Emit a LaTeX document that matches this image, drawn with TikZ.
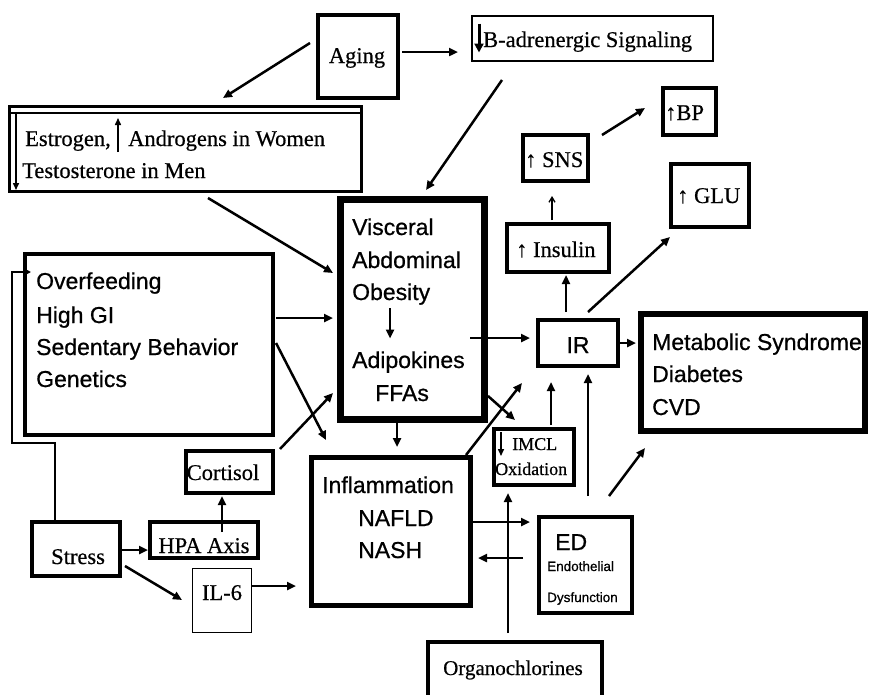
\documentclass[tikz,border=0pt]{standalone}
\usepackage{fontspec}
\setmainfont{Liberation Serif}[FakeBold=0.5]
\newfontfamily\sansf{Liberation Sans}[FakeBold=0.7]
\usetikzlibrary{arrows.meta,calc,fit}
\tikzset{
  bx/.style={draw, line width=#1, inner sep=0pt, outer sep=0pt},
  arr/.style={line width=2.5pt, -{Triangle[length=9pt,width=8pt]}},
  thinarr/.style={line width=1.5pt, -{Triangle[length=7pt,width=6pt]}},
  serif/.style={font=\fontsize{22.5}{27}\selectfont, inner sep=0pt},
  sserif/.style={font=\fontsize{18}{22}\selectfont, inner sep=0pt},
  sans/.style={font=\sansf\fontsize{23}{28}\selectfont, inner sep=0pt},
  tsans/.style={font=\sansf\fontsize{13.5}{16}\selectfont, inner sep=0pt},
}
\begin{document}
\begin{tikzpicture}[x=1pt,y=-1pt]
\useasboundingbox[fill=white] (0,0) rectangle (870,694);
\clip (0,0) rectangle (870,694);
% boxes
\node[bx=4pt, fit={(318,15)(398,98)}] (Aging) {};
\node[bx=2pt, fit={(472,16)(713,61)}] (Badr) {};
\node[bx=3pt, fit={(9.5,106.5)(361.5,191.5)}] (Estr) {};
\node[bx=7pt, fit={(340.5,199.5)(484.5,419.5)}] (Visc) {};
\node[bx=4pt, fit={(25,254)(273,435)}] (Over) {};
\node[bx=4pt, fit={(32,522)(120,576)}] (Stress) {};
\node[bx=4pt, fit={(150,522)(258,558)}] (HPA) {};
\node[bx=3.5pt, fit={(186,451)(273,493)}] (Cort) {};
\node[bx=1.5pt, fit={(192.5,568.5)(251.5,632.5)}] (IL6) {};
\node[bx=5pt, fit={(311.5,457.5)(470.5,605.5)}] (Infl) {};
\node[bx=4pt, fit={(538,320)(618,366)}] (IR) {};
\node[bx=6pt, fit={(641,314)(865,431)}] (MetS) {};
\node[bx=4pt, fit={(507,224)(609,272)}] (Ins) {};
\node[bx=3.5pt, fit={(523,135)(588,181)}] (SNS) {};
\node[bx=4pt, fit={(663,88)(716,135)}] (BP) {};
\node[bx=4pt, fit={(671,164)(749,227)}] (GLU) {};
\node[bx=3.5pt, fit={(494,429)(574,485)}] (IMCL) {};
\node[bx=4pt, fit={(539,517)(632,613)}] (ED) {};
\node[bx=4pt, fit={(428,642)(602,710)}] (Org) {};
% double top line of estrogen box
\draw[line width=1.5pt] ($(Estr.north west)+(0,6.5)$) -- ($(Estr.north east)+(0,6.5)$);
% texts
\node[serif, anchor=base] (tAging) at (357,63) {Aging};
\node[serif, anchor=base west] (tBadr) at (483,47) {B-adrenergic Signaling};
\node[serif, anchor=base west] (tEs1) at (25,146) {Estrogen,};
\node[serif, anchor=base west] (tEs2) at (128,146) {Androgens in Women};
\node[serif, anchor=base west] (tEs3) at (22,178) {Testosterone in Men};
\node[sans, anchor=base west] (tV1) at (352,235) {Visceral};
\node[sans, anchor=base west] (tV2) at (352,268) {Abdominal};
\node[sans, anchor=base west] (tV3) at (352,300) {Obesity};
\node[sans, anchor=base west] (tV4) at (352,368) {Adipokines};
\node[sans, anchor=base west] (tV5) at (375,401) {FFAs};
\node[sans, anchor=base west] (tO1) at (36,289) {Overfeeding};
\node[sans, anchor=base west] (tO2) at (36,323) {High GI};
\node[sans, anchor=base west] (tO3) at (36,355) {Sedentary Behavior};
\node[sans, anchor=base west] (tO4) at (36,387) {Genetics};
\node[sans, anchor=base west] (tM1) at (652,350) {Metabolic Syndrome};
\node[sans, anchor=base west] (tM2) at (652,382) {Diabetes};
\node[sans, anchor=base west] (tM3) at (652,415) {CVD};
\node[sans, anchor=base] (tIR) at (578,353) {IR};
\node[sans, anchor=base west] (tI1) at (322,493) {Inflammation};
\node[sans, anchor=base west] (tI2) at (358,526) {NAFLD};
\node[sans, anchor=base west] (tI3) at (358,558) {NASH};
\node[serif, anchor=base west] (tSt) at (51,564) {Stress};
\node[serif, anchor=base] (tHPA) at (204,553) {HPA Axis};
\node[serif, anchor=base] (tCo) at (223,480) {Cortisol};
\node[serif, anchor=base] (tIL) at (222,600) {IL-6};
\node[serif, anchor=base west] (tSNS) at (525,167) {↑ SNS};
\node[serif, anchor=base west] (tBP) at (665,120) {↑BP};
\node[serif, anchor=base west] (tGLU) at (677,203) {↑ GLU};
\node[serif, anchor=base west] (tIns) at (516,257) {↑ Insulin};
\node[sserif, anchor=base west] (tIM1) at (512,450) {IMCL};
\node[sserif, anchor=base west] (tIM2) at (495,475) {Oxidation};
\node[sans, anchor=base west] (tED) at (555,550) {ED};
\node[tsans, anchor=base west] (tED2) at (547,571) {Endothelial};
\node[tsans, anchor=base west] (tED3) at (547,602) {Dysfunction};
\node[font=\fontsize{21}{25}\selectfont, inner sep=0pt, anchor=base west] (tOrg) at (443,675) {Organochlorines};
% in-box arrows
\draw[thinarr] ($(Estr.west)+(6.5,-36)$) -- ($(Estr.west)+(6.5,41)$);
\draw[thinarr] ($(Estr.west)+(108.5,3)$) -- ($(Estr.west)+(108.5,-31)$);
\draw[line width=3pt, -{Triangle[length=9pt,width=9pt]}] ($(Badr.west)+(7,-15)$) -- ($(Badr.west)+(7,14)$);
\draw[arr] ($(Visc.center)+(-22.5,-1.5)$) -- ($(Visc.center)+(-22.5,29)$);
\draw[thinarr] ($(IMCL.north west)+(7,3)$) -- ($(IMCL.north west)+(7,27)$);
% connectors
\draw[arr] ($(Aging.west)+(-8,-13.5)$) -- ($(Estr.north)+(37.5,-8.5)$);
\draw[arr] ($(Aging.east)+(4,-4.5)$) -- ($(Badr.west)+(-14,13.5)$);
\draw[arr] ($(Badr.south)+(-90.5,19)$) -- ($(Visc.north)+(13.5,-9.5)$);
\draw[arr] ($(Estr.south)+(22.5,6.5)$) -- ($(Visc.west)+(-7.5,-36.5)$);
\draw[arr] ($(Over.east)+(3,-26.5)$) -- ($(Visc.west)+(-7.5,8.5)$);
\draw[arr] ($(Over.east)+(3,-1.5)$) -- ($(Infl.north)+(-65,-17.5)$);
\draw[arr] ($(Cort.north east)+(7,-2)$) -- ($(Visc.west)+(-7.5,83.5)$);
\draw[arr] ($(Stress.east)+(2,1)$) -- ($(HPA.west)+(-2,10)$);
\draw[arr] ($(HPA.north)+(18,10)$) -- ($(Cort.south)+(-7.5,3)$);
\draw[arr] ($(Stress.east)+(5,17)$) -- ($(IL6.west)+(-10.5,-0.5)$);
\draw[arr] ($(IL6.east)+(0.5,-14.5)$) -- ($(Infl.west)+(-15.5,54.5)$);
\draw[line width=2pt, -{Triangle[length=7pt,width=7pt]}] ($(Stress.north)+(-21,0)$) -- ++(0,-79) -- ++(-43,0) -- ++(0,-171) -- ($(Over.west)+(6,-72.5)$);
\draw[arr] ($(Visc.south)+(-15.5,0)$) -- ($(Infl.north)+(6,-10.5)$);
\draw[arr] ($(Visc.east)+(-14.5,28.5)$) -- ($(IR.west)+(-8,-5)$);
\draw[arr] ($(Visc.east)+(3.5,86.5)$) -- ($(IMCL.north)+(-19,-9)$);
\draw[arr] ($(Infl.north east)+(-4.5,-2.5)$) -- ($(IR.south)+(-56,17)$);
\draw[arr] (IR.east) -- ($(MetS.west)+(-5,-29.5)$);
\draw[arr] ($(IR.north)+(-12,-8)$) -- ($(Ins.south)+(8,3)$);
\draw[line width=1.3pt, -{Straight Barb[length=5pt,width=6pt]}] ($(Ins.north)+(-6,-4)$) -- ($(SNS.south)+(-3.5,15)$);
\draw[arr] ($(SNS.north east)+(14,0)$) -- ($(BP.west)+(-18,-3.5)$);
\draw[arr] ($(IR.north)+(10,-8)$) -- ($(GLU.south west)+(-1,10)$);
\draw[arr] ($(IMCL.north)+(17,-4)$) -- ($(IR.south)+(-27,16)$);
\draw[arr] ($(Org.north)+(-7,-9)$) -- ($(IMCL.south)+(-26,8)$);
\draw[arr] ($(Infl.east)+(2.5,-9.5)$) -- ($(ED.west)+(-9,-43)$);
\draw[arr] ($(ED.west)+(-16,-7)$) -- ($(Infl.east)+(7.5,26.5)$);
\draw[arr] ($(ED.north)+(2.5,-21)$) -- ($(IR.south)+(10,8)$);
\draw[arr] ($(ED.north east)+(-23,-21)$) -- ($(MetS.south west)+(4,17)$);
\end{tikzpicture}
\end{document}
